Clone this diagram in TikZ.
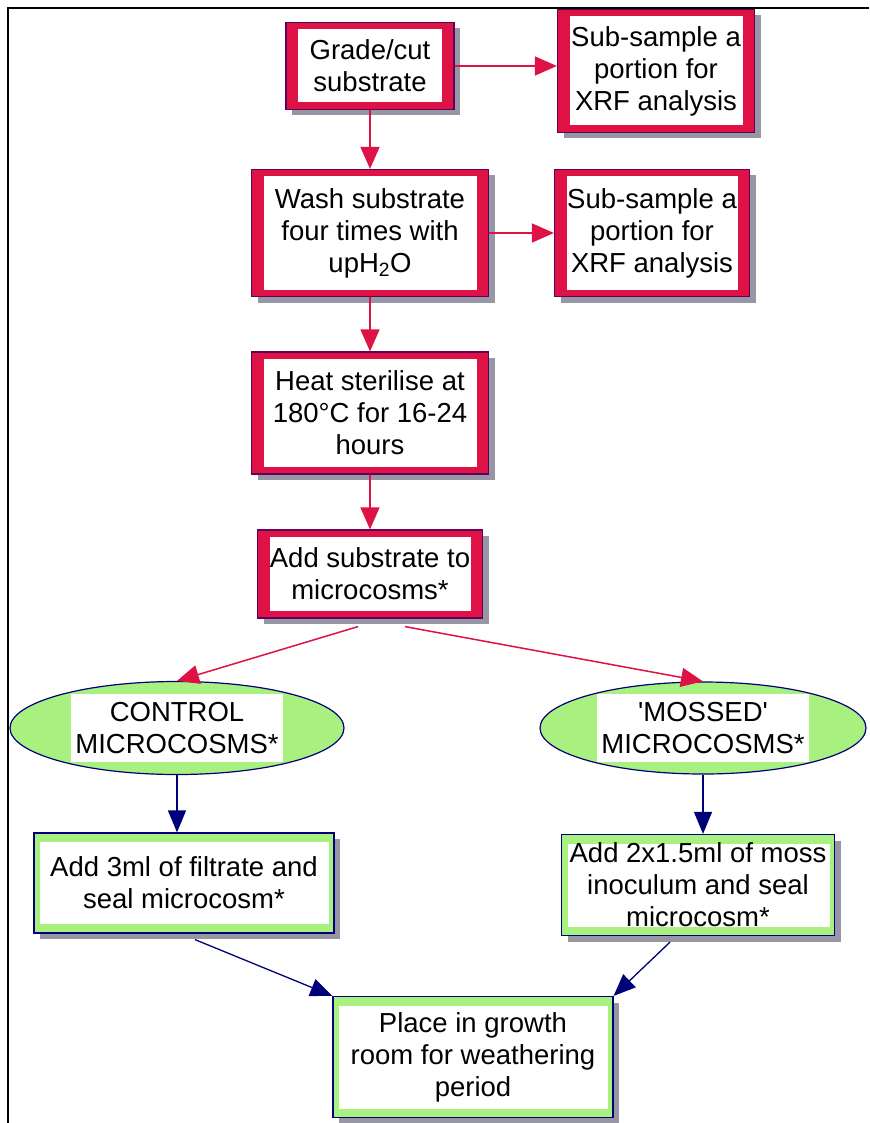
\documentclass[tikz,border=0pt]{standalone}
\usepackage{fontspec}
\setmainfont{Liberation Sans}[Ligatures=TeXOff]
\usetikzlibrary{arrows.meta,shapes.geometric,shadows}

\definecolor{boxred}{RGB}{222,18,68}
\definecolor{edgepurple}{RGB}{95,0,95}
\definecolor{mossgreen}{RGB}{168,240,128}
\definecolor{linknavy}{RGB}{0,0,120}
\definecolor{shadowgrey}{RGB}{150,150,165}
\newcommand\boxfont{\fontsize{27.5}{32}\selectfont}

\tikzset{
  stepshadow/.style={drop shadow={shadow xshift=6pt,shadow yshift=-6pt,fill=shadowgrey,opacity=1}},
  redbox/.style={rectangle,draw=edgepurple,line width=1.2pt,align=center,inner sep=0pt,font=\boxfont,stepshadow,
    path picture={
      \fill[boxred] (path picture bounding box.south west) rectangle (path picture bounding box.north east);
      \fill[white] ([shift={(12pt,7pt)}]path picture bounding box.south west) rectangle ([shift={(-12pt,-7pt)}]path picture bounding box.north east);
    }},
  greenbox/.style={rectangle,draw=linknavy,line width=1.2pt,align=center,inner sep=0pt,font=\boxfont,stepshadow,
    path picture={
      \fill[mossgreen] (path picture bounding box.south west) rectangle (path picture bounding box.north east);
      \fill[white] ([shift={(6pt,9pt)}]path picture bounding box.south west) rectangle ([shift={(-5pt,-9pt)}]path picture bounding box.north east);
    }},
  groupoval/.style={ellipse,draw=linknavy,line width=1.2pt,fill=mossgreen,align=center,inner sep=0pt,font=\boxfont,
    path picture={
      \fill[white] ([shift={(-106pt,-34pt)}]path picture bounding box.center) rectangle ([shift={(106pt,34pt)}]path picture bounding box.center);
    }},
  redlink/.style={boxred,line width=1.5pt,-{Triangle[length=22pt,width=19pt]}},
  navylink/.style={linknavy,line width=1.3pt,-{Triangle[length=22pt,width=18pt]}},
}

\begin{document}
\begin{tikzpicture}[x=1pt,y=-1pt]
        \useasboundingbox (0,0) rectangle (869,1123);
        \fill[white] (0,0) rectangle (869,1123);
        \draw[line width=1.5pt] (8,1123) -- (8,8) -- (869,8);

        \node[redbox,minimum width=168pt,minimum height=87pt] (grade) at (370,66) {Grade/cut\\substrate};
        \node[redbox,minimum width=197pt,minimum height=123pt] (sub1) at (656,71) {Sub-sample a\\portion for\\XRF analysis};
        \node[redbox,minimum width=237pt,minimum height=127pt] (wash) at (370,233) {Wash substrate\\four times with\\upH\textsubscript{2}O};
        \node[redbox,minimum width=195pt,minimum height=127pt] (sub2) at (652,233) {Sub-sample a\\portion for\\XRF analysis};
        \node[redbox,minimum width=237pt,minimum height=122pt] (heat) at (370,413) {Heat sterilise at\\180°C for 16-24\\hours};
        \node[redbox,minimum width=225pt,minimum height=88pt] (addsub) at (370,574) {Add substrate to\\microcosms*};

        \node[groupoval,minimum width=334pt,minimum height=93pt] (control) at (177,728) {CONTROL\\MICROCOSMS*};
        \node[groupoval,minimum width=326pt,minimum height=92pt] (mossed) at (703,728) {'MOSSED'\\MICROCOSMS*};

        \node[greenbox,minimum width=300pt,minimum height=100pt] (addfil) at (184,883) {Add 3ml of filtrate and\\seal microcosm*};
        \node[greenbox,minimum width=273pt,minimum height=101pt] (addmoss) at (698,885) {Add 2x1.5ml of moss\\inoculum and seal\\microcosm*};
        \node[greenbox,minimum width=280pt,minimum height=121pt] (place) at (473,1057) {Place in growth\\room for weathering\\period};

        \draw[redlink] (grade.east) -- (grade.east -| sub1.west);
        \draw[redlink] (grade) -- (wash);
        \draw[redlink] (wash.east) -- (wash.east -| sub2.west);
        \draw[redlink] (wash) -- (heat);
        \draw[redlink] (heat) -- (addsub);
        \draw[redlink] ([xshift=-12pt,yshift=-8pt]addsub.south) -- (control.north);
        \draw[redlink] ([xshift=35pt,yshift=-8pt]addsub.south) -- (mossed.north);

        \draw[navylink] (control.south) -- (control.south |- addfil.north);
        \draw[navylink] (mossed.south) -- (mossed.south |- addmoss.north);
        \draw[navylink] ([xshift=11pt,yshift=-6pt]addfil.south) -- (place.north west);
        \draw[navylink] ([xshift=-28pt,yshift=-6pt]addmoss.south) -- (place.north east);
    \end{tikzpicture}
\end{document}
